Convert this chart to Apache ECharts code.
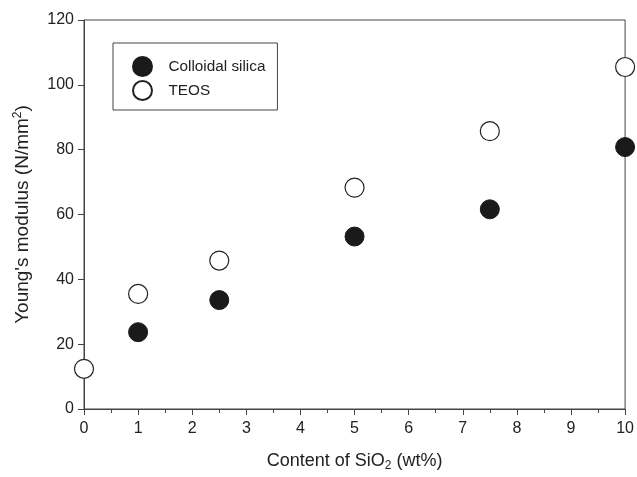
<!DOCTYPE html>
<html>
<head>
<meta charset="utf-8">
<script src="https://cdn.jsdelivr.net/npm/echarts@6/dist/echarts.min.js"></script>
<style>html,body{margin:0;padding:0;background:#fff}#c{width:637px;height:477px}</style>
</head>
<body>
<div id="c"></div>
<script>
const colloidalX = [1, 2.5, 5, 7.5, 10];
const colloidalY = [23.7, 33.6, 53.2, 61.6, 80.8];
const teosX = [0, 1, 2.5, 5, 7.5, 10];
const teosY = [12.4, 35.5, 45.8, 68.3, 85.7, 105.5];
const seriesNames = ['Colloidal silica', 'TEOS'];

const chart = echarts.init(document.getElementById('c'));
const font = 'Liberation Sans, Arial, sans-serif';
chart.setOption({
  animation: false,
  grid: {left: 84, right: 6, top: 20, bottom: 65, show: true, borderColor: '#444', borderWidth: 1},
  legend: {
    orient: 'vertical', left: 113, top: 43,
    borderColor: '#444', borderWidth: 1,
    padding: [13, 12, 9, 19],
    itemWidth: 42, itemHeight: 19, itemGap: 3,
    textStyle: {fontFamily: font, fontSize: 15.3, color: '#222'},
    data: seriesNames.map(n => ({name: n}))
  },
  xAxis: {
    type: 'value', min: 0, max: 10, interval: 1,
    name: '{a|Content of SiO}{s|2}{a| (wt%)}', nameLocation: 'middle', nameGap: 42,
    nameTextStyle: {rich: {a: {fontFamily: font, fontSize: 18, color: '#222'}, s: {fontFamily: font, fontSize: 12, color: '#222', verticalAlign: 'bottom', padding: [9, 0, 0, 0]}}},
    axisLine: {show: true, lineStyle: {color: '#444'}},
    axisTick: {show: true, inside: false, length: 6, lineStyle: {color: '#444'}},
    minorTick: {show: true, splitNumber: 2, length: 4, lineStyle: {color: '#444'}},
    splitLine: {show: false},
    axisLabel: {fontFamily: font, fontSize: 16, color: '#222', margin: 12}
  },
  yAxis: {
    type: 'value', min: 0, max: 120, interval: 20,
    name: '{a|Young\'s modulus (N/mm}{s|2}{a|)}', nameLocation: 'middle', nameGap: 51, nameRotate: 90,
    nameTextStyle: {rich: {a: {fontFamily: font, fontSize: 19, color: '#222'}, s: {fontFamily: font, fontSize: 12, color: '#222', verticalAlign: 'top', padding: [0, 0, 9, 0]}}},
    axisLine: {show: true, lineStyle: {color: '#444'}},
    axisTick: {show: true, inside: false, length: 6, lineStyle: {color: '#444'}},
    splitLine: {show: false},
    axisLabel: {fontFamily: font, fontSize: 16, color: '#222', margin: 10}
  },
  series: [
    {name: seriesNames[0], type: 'scatter', symbol: 'circle', symbolSize: 19, clip: false,
     itemStyle: {color: '#1a1a1a', borderColor: '#1a1a1a', borderWidth: 1, opacity: 1},
     data: colloidalX.map((x, i) => [x, colloidalY[i]])},
    {name: seriesNames[1], type: 'scatter', symbol: 'circle', symbolSize: 19, clip: false,
     itemStyle: {color: '#fff', borderColor: '#222', borderWidth: 1.2, opacity: 1},
     data: teosX.map((x, i) => [x, teosY[i]])}
  ]
});
</script>
</body>
</html>
